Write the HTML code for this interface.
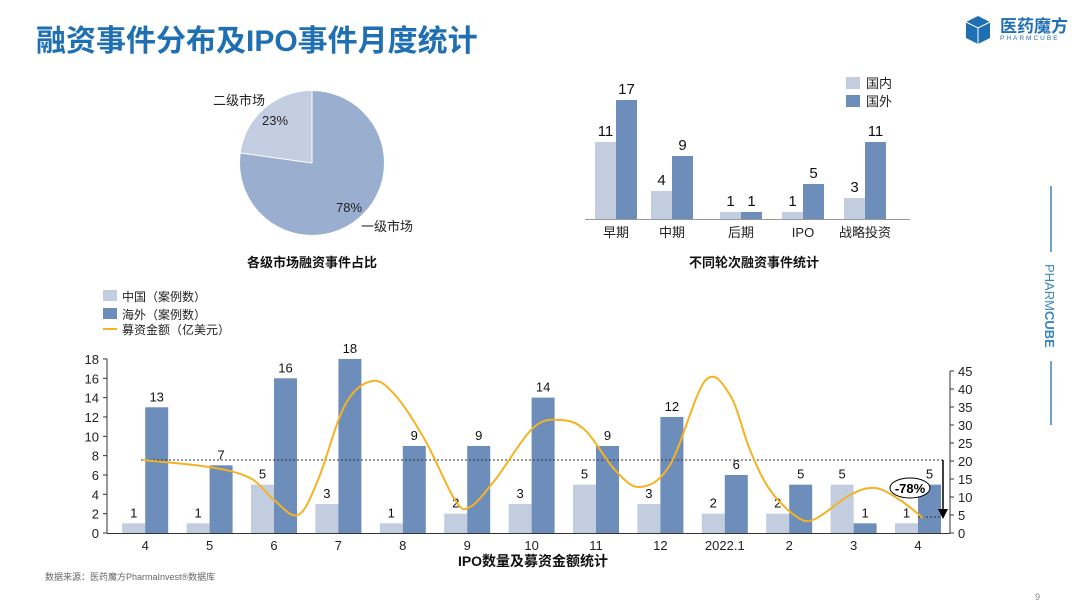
<!DOCTYPE html>
<html><head><meta charset="utf-8"><style>
body{margin:0;width:1080px;height:608px;background:#fff;overflow:hidden;font-family:"Liberation Sans","Noto Sans CJK SC",sans-serif}
svg text{font-family:"Liberation Sans","Noto Sans CJK SC",sans-serif}
</style></head><body>
<svg id="s" width="1080" height="608" viewBox="0 0 1080 608" xmlns="http://www.w3.org/2000/svg">
<text x="36" y="51" font-size="30" font-weight="bold" fill="#1f6fb3">融资事件分布及IPO事件月度统计</text>
<!-- logo -->
<g transform="translate(966,16)">
<polygon points="12,0 24,6 24,22 12,28 0,22 0,6" fill="#1f6fb3"/>
<polyline points="0,6 12,12 24,6 M12,12" fill="none" stroke="#fff" stroke-width="1"/>
<line x1="12" y1="12" x2="12" y2="28" stroke="#fff" stroke-width="1"/>
</g>
<text x="1000" y="32" font-size="17" font-weight="bold" fill="#1f6fb3">医药魔方</text>
<text x="1000" y="40" font-size="6.5" fill="#1f6fb3" letter-spacing="2">PHARMCUBE</text>
<line x1="1051" y1="186" x2="1051" y2="252" stroke="#3a86c0" stroke-width="1.5"/>
<line x1="1051" y1="361" x2="1051" y2="425" stroke="#3a86c0" stroke-width="1.5"/>
<text transform="translate(1045,264) rotate(90)" font-size="13" fill="#3a86c0">PHARM<tspan font-weight="bold">CUBE</tspan></text>
<!-- pie -->
<circle cx="312" cy="163" r="72" fill="#9aafd0"/>
<path d="M312,163 L312,91 A72,72 0 0 0 240.7,153 Z" fill="#c3cee2"/>
<line x1="312" y1="163" x2="312" y2="91" stroke="#fff" stroke-width="1"/>
<line x1="312" y1="163" x2="240.7" y2="153" stroke="#fff" stroke-width="1"/>
<text x="213" y="105" font-size="13" fill="#222">二级市场</text>
<text x="262" y="125" font-size="13" fill="#222">23%</text>
<text x="336" y="212" font-size="13" fill="#222">78%</text>
<text x="361" y="231" font-size="13" fill="#222">一级市场</text>
<text x="312" y="267" font-size="13" font-weight="bold" fill="#111" text-anchor="middle">各级市场融资事件占比</text>
<!-- right bar -->
<rect x="846" y="77" width="14" height="12" fill="#c2cde0"/><text x="866" y="88" font-size="13" fill="#222">国内</text>
<rect x="846" y="95" width="14" height="12" fill="#6d8dbb"/><text x="866" y="106" font-size="13" fill="#222">国外</text>
<line x1="585" y1="219.5" x2="910" y2="219.5" stroke="#999" stroke-width="1"/>
<text x="754" y="267" font-size="13" font-weight="bold" fill="#111" text-anchor="middle">不同轮次融资事件统计</text>
<!-- bottom legend -->
<rect x="103" y="290" width="14" height="11" fill="#c2cde0"/><text x="122" y="301" font-size="12" fill="#222">中国（案例数）</text>
<rect x="103" y="308" width="14" height="11" fill="#6d8dbb"/><text x="122" y="319" font-size="12" fill="#222">海外（案例数）</text>
<line x1="103" y1="329" x2="117" y2="329" stroke="#f5b323" stroke-width="2"/><text x="122" y="334" font-size="12" fill="#222">募资金额（亿美元）</text>
<g id="bot"></g>
<text x="533" y="566" font-size="14" font-weight="bold" fill="#111" text-anchor="middle">IPO数量及募资金额统计</text>
<text x="45" y="580" font-size="9" fill="#666">数据来源：医药魔方PharmaInvest®数据库</text>
<text x="1035" y="600" font-size="9" fill="#888">9</text>
</svg>
<script>
var s=document.getElementById('s'),NS='http://www.w3.org/2000/svg';
function el(t,a,txt){var e=document.createElementNS(NS,t);for(var k in a)e.setAttribute(k,a[k]);if(txt!=null)e.textContent=txt;s.appendChild(e);return e;}
// top right bars
var cats=['早期','中期','后期','IPO','战略投资'],cx=[616,672,741,803,865],d1=[11,4,1,1,3],d2=[17,9,1,5,11];
for(var i=0;i<5;i++){var h1=d1[i]*7,h2=d2[i]*7;
el('rect',{x:cx[i]-21,y:219-h1,width:21,height:h1,fill:'#c2cde0'});
el('rect',{x:cx[i],y:219-h2,width:21,height:h2,fill:'#6d8dbb'});
el('text',{x:cx[i]-10.5,y:219-h1-6,'font-size':15,'text-anchor':'middle',fill:'#111'},d1[i]);
el('text',{x:cx[i]+10.5,y:219-h2-6,'font-size':15,'text-anchor':'middle',fill:'#111'},d2[i]);
el('text',{x:cx[i],y:237,'font-size':13,'text-anchor':'middle',fill:'#222'},cats[i]);}
// bottom chart
var L=[1,1,5,3,1,2,3,5,3,2,2,5,1],H=[13,7,16,18,9,9,14,9,12,6,5,1,5],lab=['4','5','6','7','8','9','10','11','12','2022.1','2','3','4'];
var x0=113,w=64.4,y0=533,u=9.67,bw=23;
el('line',{x1:107,y1:359,x2:107,y2:533,stroke:'#333'});
el('line',{x1:107,y1:533.5,x2:950,y2:533.5,stroke:'#333'});
for(var v=0;v<=18;v+=2){var y=y0-v*u;el('line',{x1:103,y1:y,x2:107,y2:y,stroke:'#333'});el('text',{x:99,y:y+5,'font-size':13,'text-anchor':'end',fill:'#222'},v);}
el('line',{x1:950,y1:371,x2:950,y2:533,stroke:'#333'});
for(var v=0;v<=45;v+=5){var y=y0-v*3.6;el('line',{x1:950,y1:y,x2:954,y2:y,stroke:'#333'});el('text',{x:958,y:y+5,'font-size':13,fill:'#222'},v);}
for(var i=0;i<13;i++){var c=x0+w*(i+.5),h1=L[i]*u,h2=H[i]*u;
el('rect',{x:c-bw,y:y0-h1,width:bw,height:h1,fill:'#c2cde0'});
el('rect',{x:c,y:y0-h2,width:bw,height:h2,fill:'#6d8dbb'});
el('text',{x:c-bw/2,y:y0-h1-6,'font-size':13,'text-anchor':'middle',fill:'#111'},L[i]);
el('text',{x:c+bw/2,y:y0-h2-6,'font-size':13,'text-anchor':'middle',fill:'#111'},H[i]);
el('text',{x:c,y:550,'font-size':13,'text-anchor':'middle',fill:'#222'},lab[i]);}
el('line',{x1:141,y1:460,x2:945,y2:460,stroke:'#333','stroke-dasharray':'2,2','stroke-width':1});
el('line',{x1:918,y1:517,x2:945,y2:517,stroke:'#333','stroke-dasharray':'2,2','stroke-width':1});
var P=[[142,460],[209,467],[250,478],[274,500],[298,515],[318,480],[345,405],[372,381],[395,395],[425,440],[455,500],[470,507],[495,480],[533,428],[560,420],[585,430],[615,470],[640,487],[670,465],[705,381],[730,395],[750,450],[770,490],[797,517],[815,519],[850,495],[875,488],[900,500],[923,518]];
var d='M'+P[0];for(var i=0;i<P.length-1;i++){var p0=P[i-1]||P[i],p1=P[i],p2=P[i+1],p3=P[i+2]||p2;
d+=' C'+(p1[0]+(p2[0]-p0[0])/6)+','+(p1[1]+(p2[1]-p0[1])/6)+' '+(p2[0]-(p3[0]-p1[0])/6)+','+(p2[1]-(p3[1]-p1[1])/6)+' '+p2[0]+','+p2[1];}
el('path',{d:d,fill:'none',stroke:'#f5b323','stroke-width':2});
el('line',{x1:943,y1:460,x2:943,y2:510,stroke:'#000','stroke-width':1.5});
el('polygon',{points:'938,509 948,509 943,519',fill:'#000'});
el('ellipse',{cx:910,cy:488,rx:20,ry:10,fill:'#fff',stroke:'#000','stroke-width':1});
el('text',{x:910,y:493,'font-size':13,'font-weight':'bold','text-anchor':'middle',fill:'#000'},'-78%');
</script>
</body></html>
